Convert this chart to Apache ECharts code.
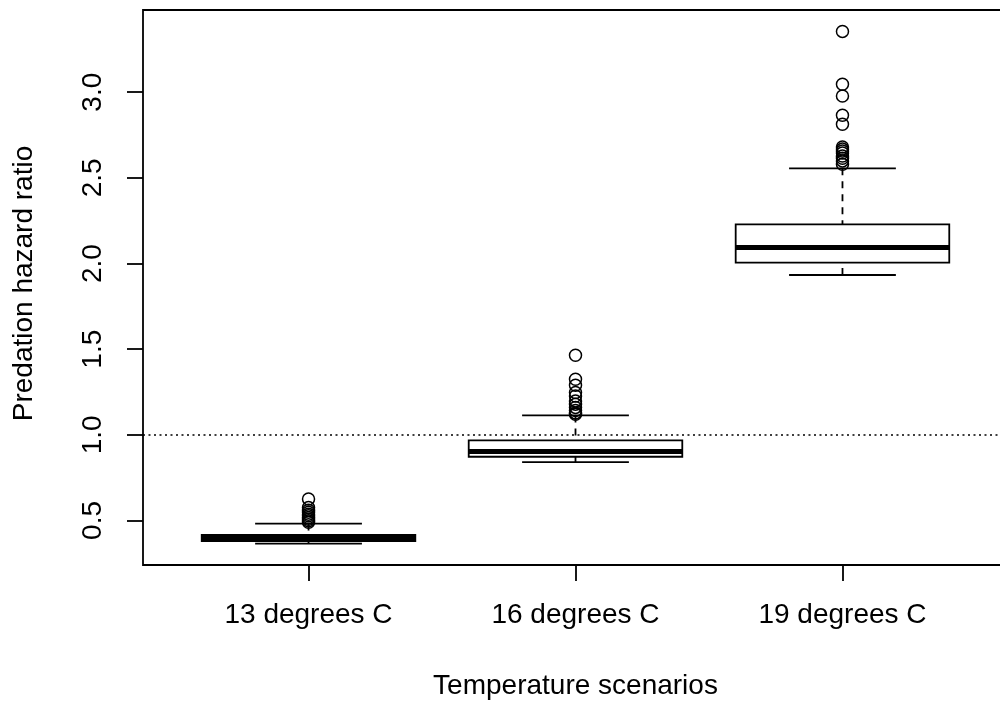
<!DOCTYPE html>
<html><head><meta charset="utf-8">
<script src="https://cdn.jsdelivr.net/npm/echarts@6/dist/echarts.min.js"></script>
<style>html,body{margin:0;padding:0;background:#fff}#c{width:1000px;height:705px}</style>
</head><body><div id="c"></div>
<script>
// ---- data ----
const categories = ['13 degrees C', '16 degrees C', '19 degrees C'];
const categoryPositions = [1, 2, 3];
// [lower whisker, Q1, median, Q3, upper whisker]
const stats13 = [0.365, 0.380, 0.395, 0.415, 0.482];
const stats16 = [0.840, 0.872, 0.903, 0.967, 1.113];
const stats19 = [1.933, 2.005, 2.093, 2.229, 2.556];
const outliers13 = [0.625, 0.575, 0.560, 0.548, 0.537, 0.527, 0.517, 0.507, 0.498, 0.490];
const outliers16 = [1.464, 1.324, 1.289, 1.247, 1.227, 1.198, 1.179, 1.160, 1.142, 1.128, 1.120];
const outliers19 = [3.355, 3.047, 2.978, 2.866, 2.813, 2.680, 2.668, 2.657, 2.645, 2.628, 2.614, 2.599, 2.580];
const yTicks = [0.5, 1.0, 1.5, 2.0, 2.5, 3.0];
const referenceLevel = 1.0;
const xRange = [0.38, 3.62];
const yRange = [0.24, 3.48];

// ---- build ----
const allStats = [stats13, stats16, stats19];
const allOutliers = [outliers13, outliers16, outliers19];
const boxData = allStats.map((s, i) => [categoryPositions[i]].concat(s));
const outlierData = [];
allOutliers.forEach((arr, i) => arr.forEach(v => outlierData.push([categoryPositions[i], v])));

const FONT = '"Liberation Sans", Arial, Helvetica, sans-serif';
const FS = 28;
const LW = 1.8;

function renderBox(params, api) {
  const x = api.value(0);
  const pMin = api.coord([x, api.value(1)]);
  const pQ1 = api.coord([x, api.value(2)]);
  const pMd = api.coord([x, api.value(3)]);
  const pQ3 = api.coord([x, api.value(4)]);
  const pMax = api.coord([x, api.value(5)]);
  const halfBox = api.size([0.4, 0])[0];
  const halfCap = api.size([0.2, 0])[0];
  const cx = pMin[0];
  const solid = { stroke: '#000', lineWidth: LW, fill: null };
  const dashed = { stroke: '#000', lineWidth: LW, fill: null, lineDash: [7, 6] };
  return {
    type: 'group',
    children: [
      { type: 'rect', shape: { x: cx - halfBox, y: pQ3[1], width: 2 * halfBox, height: pQ1[1] - pQ3[1] },
        style: { fill: '#fff', stroke: '#000', lineWidth: LW } },
      { type: 'line', shape: { x1: cx - halfBox, y1: pMd[1], x2: cx + halfBox, y2: pMd[1] },
        style: { stroke: '#000', lineWidth: 5 } },
      { type: 'line', shape: { x1: cx, y1: pMin[1], x2: cx, y2: pQ1[1] }, style: dashed },
      { type: 'line', shape: { x1: cx, y1: pMax[1], x2: cx, y2: pQ3[1] }, style: dashed },
      { type: 'line', shape: { x1: cx - halfCap, y1: pMin[1], x2: cx + halfCap, y2: pMin[1] }, style: solid },
      { type: 'line', shape: { x1: cx - halfCap, y1: pMax[1], x2: cx + halfCap, y2: pMax[1] }, style: solid }
    ]
  };
}

const chart = echarts.init(document.getElementById('c'), null, { renderer: 'canvas' });
chart.setOption({
  animation: false,
  backgroundColor: '#fff',
  grid: {
    left: 143, right: -8, top: 10, bottom: 140,
    show: true, borderColor: '#000', borderWidth: LW, backgroundColor: 'transparent',
    containLabel: false, outerBoundsMode: 'none'
  },
  xAxis: {
    type: 'value', min: xRange[0], max: xRange[1],
    axisLine: { show: false, onZero: false },
    splitLine: { show: false },
    axisTick: { show: true, customValues: categoryPositions, length: 16, lineStyle: { color: '#000', width: LW } },
    axisLabel: {
      customValues: categoryPositions,
      formatter: v => categories[categoryPositions.indexOf(v)],
      fontSize: FS, color: '#000', fontFamily: FONT, margin: 36
    },
    name: 'Temperature scenarios', nameLocation: 'middle', nameGap: 107,
    nameTextStyle: { fontSize: FS, color: '#000', fontFamily: FONT }
  },
  yAxis: {
    type: 'value', min: yRange[0], max: yRange[1],
    axisLine: { show: false, onZero: false },
    splitLine: { show: false },
    axisTick: { show: true, customValues: yTicks, length: 16, lineStyle: { color: '#000', width: LW } },
    axisLabel: {
      customValues: yTicks, rotate: 90,
      formatter: v => Number(v).toFixed(1),
      fontSize: FS, color: '#000', fontFamily: FONT, margin: 36
    },
    name: 'Predation hazard ratio', nameLocation: 'middle', nameGap: 105,
    nameTextStyle: { fontSize: FS, color: '#000', fontFamily: FONT, padding: [0, 0, 0, 8] }
  },
  series: [
    {
      type: 'custom', name: 'boxes', z: 2,
      renderItem: renderBox,
      encode: { x: 0, y: [1, 2, 3, 4, 5] },
      data: boxData,
      silent: true
    },
    {
      type: 'scatter', name: 'outliers', z: 3,
      symbol: 'circle', symbolSize: 12,
      itemStyle: { color: 'rgba(0,0,0,0)', borderColor: '#000', borderWidth: 1.5, opacity: 1 },
      data: outlierData,
      silent: true,
      markLine: {
        silent: true, symbol: ['none', 'none'], label: { show: false },
        lineStyle: { color: '#000', type: [2, 3.5], width: 1.5 },
        data: [{ yAxis: referenceLevel }],
        animation: false
      }
    }
  ]
});
</script>
</body></html>
